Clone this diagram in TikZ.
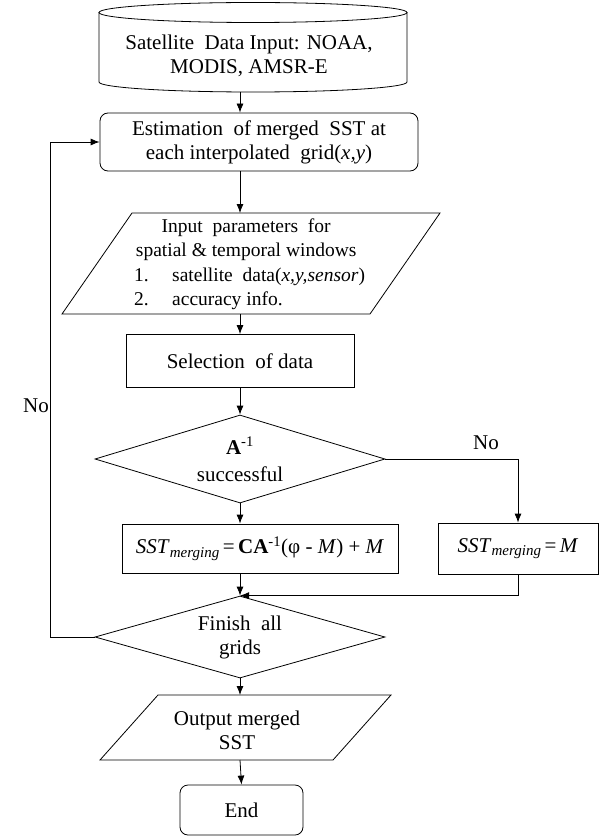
\documentclass[tikz,border=0pt]{standalone}
\usepackage{fontspec}
\setmainfont{Liberation Serif}
\usetikzlibrary{arrows.meta,shapes.geometric}
\begin{document}
\begin{tikzpicture}[x=1pt,y=-1pt,
  font=\fontsize{21}{24}\selectfont,
  base/.style={draw, line width=0.8pt, inner sep=0pt, align=center},
  rbox/.style={base, rounded corners=8pt},
  rect/.style={base},
  dia/.style={base, diamond, aspect=3.3},
  txt/.style={inner sep=0pt, align=center},
  shapeline/.style={line width=0.8pt, line join=miter},
  arr/.style={draw, line width=0.8pt, -{Latex[length=9pt,width=7pt]}},
  conn/.style={draw, line width=0.8pt}]
\useasboundingbox (0,0) rectangle (612,837);
\fill[white] (0,0) rectangle (612,837);

% input cylinder
\draw[shapeline] (253,12.5) ellipse [x radius=154pt, y radius=10pt];
\draw[shapeline] (99,12.5) -- (99,82) arc[start angle=180, end angle=360, x radius=154pt, y radius=10pt] -- (407,12.5);
\node[txt] (inp) at (249,56) {Satellite\ \ Data Input: NOAA,\\MODIS, AMSR-E};
\coordinate (inpB) at (240,92);

% estimation
\node[rbox, minimum width=318pt, minimum height=58pt] (est) at (259,142)
  {Estimation\ \ of merged\ \ SST at\\each interpolated\ \ grid(\textit{x,y})};

% input parameters parallelogram
\draw[shapeline] (132,213) -- (440,213) -- (370,314) -- (62,314) -- cycle;
\coordinate (parT) at (240,213);
\coordinate (parB) at (240,314);
\node[inner sep=0pt, anchor=west, align=left, font=\fontsize{19.5}{24.5}\selectfont] (par) at (134,264)
  {\makebox[224pt][c]{Input\ \ parameters\ \ for}\\
   \makebox[224pt][c]{spatial \& temporal windows}\\
   \makebox[224pt][l]{1.\hspace{1.2em}satellite\ \ data(\textit{x,y,sensor})}\\
   \makebox[224pt][l]{2.\hspace{1.2em}accuracy info.}};

% selection
\node[rect, minimum width=228pt, minimum height=53pt] (sel) at (240,361) {Selection\ \ of data};

% decision 1
\node[dia, minimum width=290pt, minimum height=88pt] (d1) at (240,459)
  {\textbf{A}\textsuperscript{-1}\\[3pt]successful};

% merging boxes
\node[rect, minimum width=276pt, minimum height=49pt] (sst) at (260,548.5)
  {\textit{SST}\raisebox{-0.35ex}{\fontsize{15}{15}\selectfont\textit{merging}}\,=\,\textbf{CA}\textsuperscript{-1}(φ - \textit{M}) + \textit{M}};
\node[rect, minimum width=160pt, minimum height=51pt] (sstm) at (518,548.5)
  {\textit{SST}\raisebox{-0.35ex}{\fontsize{15}{15}\selectfont\textit{merging}}\,=\,\textit{M}};

% decision 2
\node[dia, minimum width=290pt, minimum height=82pt] (d2) at (240,637)
  {Finish\ \ all\\grids};

% output parallelogram
\draw[shapeline] (158,695) -- (391,695) -- (333,760) -- (100,760) -- cycle;
\coordinate (outT) at (240,695);
\coordinate (outB) at (240,760);
\node[txt] (out) at (237,730) {Output merged\\SST};

% end
\node[rbox, minimum width=123pt, minimum height=50pt] (end) at (241.5,810) {End};

% labels
\node[txt] (noL) at (36,406) {No};
\node[txt] (noR) at (486,443) {No};

% connectors
\draw[arr] (inpB) -- (est.north -| inpB);
\draw[arr] (est.south -| inpB) -- (parT);
\draw[arr] (parB) -- (sel.north -| parB);
\draw[arr] (sel.south) -- (d1.north);
\draw[arr] (d1.south) -- (sst.north -| d1.south);
\draw[arr] (d1.east) -| (sstm.north);
\draw[arr] (sst.south -| d2.north) -- (d2.north);
\draw[arr] (sstm.south) |- (d2.north);
\coordinate (fb) at (50,637);
\draw[arr] (d2.west) -- (fb) |- (est.west);
\draw[arr] (d2.south) -- (outT);
\draw[arr] (outB) -- (end.north);
\end{tikzpicture}
\end{document}
